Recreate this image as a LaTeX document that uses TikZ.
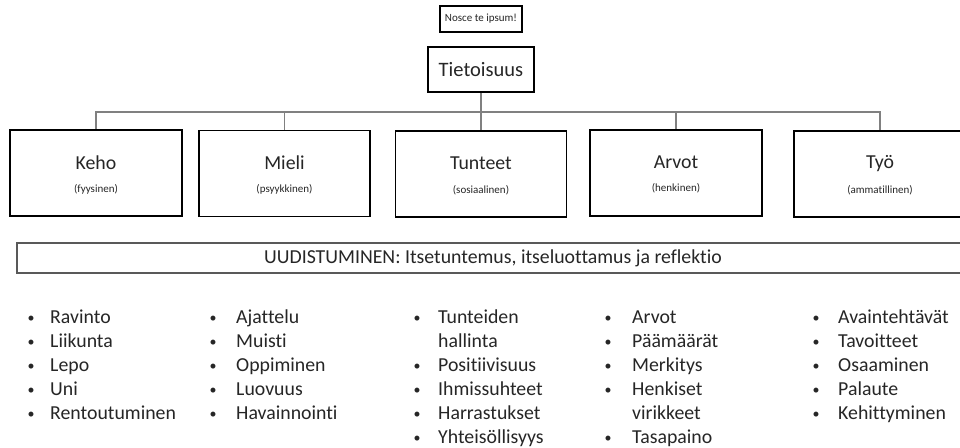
\documentclass[tikz,border=0pt]{standalone}
\usepackage{fontspec}
\setmainfont{Carlito}[Ligatures=NoCommon]
\tikzset{
  box/.style={draw=black, line width=1.6pt, fill=white, inner sep=0pt},
  conn/.style={draw=black!50, line width=1.4pt},
  txt/.style={text=black!85, inner sep=0pt},
  big/.style={txt, font=\fontsize{19.8}{23}\selectfont},
  small/.style={txt, font=\fontsize{11}{13}\selectfont},
  itm/.style={txt, anchor=base west, font=\fontsize{19.8}{24}\selectfont},
  bul/.style={txt, anchor=base, font=\fontsize{14}{24}\selectfont},
}
\begin{document}
\begin{tikzpicture}[x=1pt,y=-1pt]
\useasboundingbox (0,0) rectangle (960,447);
\clip (0,0) rectangle (960,447);
\fill[white] (0,0) rectangle (960,447);

% top boxes
\node[box, minimum width=82pt, minimum height=26pt, small] (nosce) at (481,19) {Nosce te ipsum!};
\node[box, minimum width=106pt, minimum height=45pt, txt, font=\fontsize{20.5}{24}\selectfont] (tiet) at (481,69.5) {Tietoisuus};

% five boxes
\node[box, minimum width=172pt, minimum height=86pt] (keho) at (96,173) {};
\node[box, minimum width=171pt, minimum height=86pt] (mieli) at (284.5,173.5) {};
\node[box, minimum width=171pt, minimum height=86pt] (tunt) at (481,174) {};
\node[box, minimum width=172pt, minimum height=86pt] (arvot) at (676,173) {};
\node[box, minimum width=172pt, minimum height=86pt] (tyo) at (880,174) {};

\node[big] (kehoT) at (96,163) {Keho};
\node[small] (kehoS) at (96,189) {(fyysinen)};
\node[big] (mieliT) at (284.5,163) {Mieli};
\node[small] (mieliS) at (284.5,189) {(psyykkinen)};
\node[big] (tuntT) at (481,163) {Tunteet};
\node[small] (tuntS) at (481,190) {(sosiaalinen)};
\node[big] (arvotT) at (676,162) {Arvot};
\node[small] (arvotS) at (676,188) {(henkinen)};
\node[big] (tyoT) at (880,164) {Työ};
\node[small] (tyoS) at (880,190) {(ammatillinen)};

% connectors
\coordinate (bus) at (481,112);
\draw[conn] (tiet.south) -- (tunt.north);
\draw[conn] (tiet.south) -- (bus) -| (keho.north);
\draw[conn] (bus) -| (mieli.north);
\draw[conn] (bus) -| (arvot.north);
\draw[conn] (bus) -| (tyo.north);

% renewal bar
\node[draw=black!65, line width=1.2pt, minimum width=952pt, minimum height=30pt, inner sep=0pt] (uud) at (493,258) {};
\node[big] (uudT) at (493,258) {UUDISTUMINEN: Itsetuntemus, itseluottamus ja reflektio};

% lists
\foreach \b/\t [count=\i] in {1/Ravinto,1/Liikunta,1/Lepo,1/Uni,1/Rentoutuminen}{
  \node[itm] (a\i) at (50,{323+24*(\i-1)}) {\t};
  \ifnum\b=1 \node[bul] (ab\i) at (31,{322+24*(\i-1)}) {•};\fi
}
\foreach \b/\t [count=\i] in {1/Ajattelu,1/Muisti,1/Oppiminen,1/Luovuus,1/Havainnointi}{
  \node[itm] (m\i) at (236,{323+24*(\i-1)}) {\t};
  \ifnum\b=1 \node[bul] (mb\i) at (213,{322+24*(\i-1)}) {•};\fi
}
\foreach \b/\t [count=\i] in {1/Tunteiden,0/hallinta,1/Positiivisuus,1/Ihmissuhteet,1/Harrastukset,1/Yhteisöllisyys}{
  \node[itm] (t\i) at (438,{323+24*(\i-1)}) {\t};
  \ifnum\b=1 \node[bul] (tb\i) at (417,{322+24*(\i-1)}) {•};\fi
}
\foreach \b/\t [count=\i] in {1/Arvot,1/Päämäärät,1/Merkitys,1/Henkiset,0/virikkeet,1/Tasapaino}{
  \node[itm] (r\i) at (632,{323+24*(\i-1)}) {\t};
  \ifnum\b=1 \node[bul] (rb\i) at (608,{322+24*(\i-1)}) {•};\fi
}
\foreach \b/\t [count=\i] in {1/Avaintehtävät,1/Tavoitteet,1/Osaaminen,1/Palaute,1/Kehittyminen}{
  \node[itm] (y\i) at (838,{323+24*(\i-1)}) {\t};
  \ifnum\b=1 \node[bul] (yb\i) at (816,{322+24*(\i-1)}) {•};\fi
}
\end{tikzpicture}
\end{document}
